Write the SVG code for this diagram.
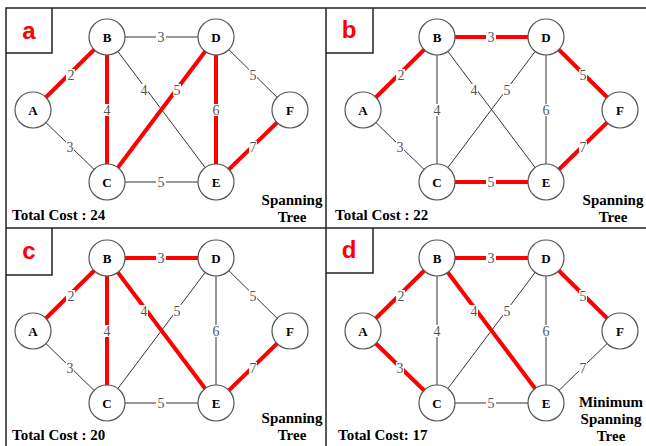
<svg xmlns="http://www.w3.org/2000/svg" width="646" height="446" viewBox="0 0 646 446">
<style>
.frame{stroke:#222;stroke-width:1.5;fill:none}
.e{stroke:#333;stroke-width:1}
.r{stroke:#ff0000;stroke-width:4}
.n circle{fill:#fff;stroke:#555;stroke-width:1.2}
.n text{font-family:"Liberation Serif","Times New Roman",serif;font-weight:bold;font-size:13px;fill:#000;text-anchor:middle}
.w{font-family:"Liberation Serif","Times New Roman",serif;font-size:14px;fill:#555;text-anchor:middle}
.bg{fill:#fff}
.tag{font-family:"Liberation Sans",Arial,sans-serif;font-weight:bold;font-size:24px;fill:#ff0000;text-anchor:middle}
.cost{font-family:"Liberation Serif","Times New Roman",serif;font-weight:bold;font-size:15px;fill:#000}
.cap{font-family:"Liberation Serif","Times New Roman",serif;font-weight:bold;font-size:15px;fill:#000;text-anchor:middle}
</style>
<rect width="646" height="446" fill="#fff"/>
<g id="frame">
<path class="frame" d="M6,446V8H646M326,8V446M6,228H646"/>
<path class="frame" d="M6,53H52V8M326,53H373V8M6,275H52V228M326,273H373V228"/>
</g>
<g id="tags">
<text class="tag" x="29" y="39">a</text>
<text class="tag" x="349" y="38">b</text>
<text class="tag" x="29" y="259">c</text>
<text class="tag" x="349" y="258">d</text>
</g>
<g id="captions">
<text class="cost" x="12" y="220">Total Cost : 24</text>
<text class="cap" x="292" y="205">Spanning</text><text class="cap" x="292" y="222">Tree</text>
<text class="cost" x="335" y="220">Total Cost : 22</text>
<text class="cap" x="613" y="205">Spanning</text><text class="cap" x="613" y="222">Tree</text>
<text class="cost" x="12" y="440">Total Cost : 20</text>
<text class="cap" x="292" y="423">Spanning</text><text class="cap" x="292" y="440">Tree</text>
<text class="cost" x="338" y="440">Total Cost: 17</text>
<text class="cap" x="611" y="407">Minimum</text><text class="cap" x="611" y="424">Spanning</text><text class="cap" x="611" y="441">Tree</text>
</g>

<!-- Panel a -->
<g id="panel-a">
<g id="connectors-a">
<line class="e" x1="107" y1="37" x2="216" y2="37"/>
<line class="e" x1="107" y1="37" x2="216" y2="182"/>
<line class="e" x1="216" y1="37" x2="290" y2="110"/>
<line class="e" x1="33" y1="110" x2="107" y2="182"/>
<line class="e" x1="107" y1="182" x2="216" y2="182"/>
<line class="r" x1="33" y1="110" x2="107" y2="37"/>
<line class="r" x1="107" y1="37" x2="107" y2="182"/>
<line class="r" x1="107" y1="182" x2="216" y2="37"/>
<line class="r" x1="216" y1="37" x2="216" y2="182"/>
<line class="r" x1="216" y1="182" x2="290" y2="110"/>
<rect class="bg" x="66" y="69" width="9" height="12"/><text class="w" x="71" y="80">2</text>
<rect class="bg" x="156" y="31" width="10" height="12"/><text class="w" x="161" y="42">3</text>
<rect class="bg" x="102" y="104" width="10" height="12"/><text class="w" x="107" y="115">4</text>
<rect class="bg" x="140" y="84" width="8" height="12"/><text class="w" x="144" y="95">4</text>
<rect class="bg" x="173" y="84" width="8" height="12"/><text class="w" x="177" y="95">5</text>
<rect class="bg" x="211" y="104" width="10" height="12"/><text class="w" x="216" y="115">6</text>
<rect class="bg" x="249" y="69" width="8" height="12"/><text class="w" x="253" y="80">5</text>
<rect class="bg" x="66" y="141" width="8" height="12"/><text class="w" x="70" y="152">3</text>
<rect class="bg" x="249" y="141" width="8" height="12"/><text class="w" x="253" y="152">7</text>
<rect class="bg" x="156" y="176" width="10" height="12"/><text class="w" x="161" y="187">5</text>
</g>
<g id="a-A" class="n"><circle cx="33" cy="110" r="18"/><text x="33" y="115">A</text></g>
<g id="a-B" class="n"><circle cx="107" cy="37" r="18"/><text x="107" y="42">B</text></g>
<g id="a-C" class="n"><circle cx="107" cy="182" r="18"/><text x="107" y="187">C</text></g>
<g id="a-D" class="n"><circle cx="216" cy="37" r="18"/><text x="216" y="42">D</text></g>
<g id="a-E" class="n"><circle cx="216" cy="182" r="18"/><text x="216" y="187">E</text></g>
<g id="a-F" class="n"><circle cx="290" cy="110" r="18"/><text x="290" y="115">F</text></g>
</g>

<!-- Panel b -->
<g id="panel-b" transform="translate(330,0)">
<g id="connectors-b">
<line class="e" x1="107" y1="37" x2="107" y2="182"/>
<line class="e" x1="107" y1="37" x2="216" y2="182"/>
<line class="e" x1="107" y1="182" x2="216" y2="37"/>
<line class="e" x1="216" y1="37" x2="216" y2="182"/>
<line class="e" x1="33" y1="110" x2="107" y2="182"/>
<line class="r" x1="33" y1="110" x2="107" y2="37"/>
<line class="r" x1="107" y1="37" x2="216" y2="37"/>
<line class="r" x1="216" y1="37" x2="290" y2="110"/>
<line class="r" x1="107" y1="182" x2="216" y2="182"/>
<line class="r" x1="216" y1="182" x2="290" y2="110"/>
<rect class="bg" x="66" y="69" width="9" height="12"/><text class="w" x="71" y="80">2</text>
<rect class="bg" x="156" y="31" width="10" height="12"/><text class="w" x="161" y="42">3</text>
<rect class="bg" x="102" y="104" width="10" height="12"/><text class="w" x="107" y="115">4</text>
<rect class="bg" x="140" y="84" width="8" height="12"/><text class="w" x="144" y="95">4</text>
<rect class="bg" x="173" y="84" width="8" height="12"/><text class="w" x="177" y="95">5</text>
<rect class="bg" x="211" y="104" width="10" height="12"/><text class="w" x="216" y="115">6</text>
<rect class="bg" x="249" y="69" width="8" height="12"/><text class="w" x="253" y="80">5</text>
<rect class="bg" x="66" y="141" width="8" height="12"/><text class="w" x="70" y="152">3</text>
<rect class="bg" x="249" y="141" width="8" height="12"/><text class="w" x="253" y="152">7</text>
<rect class="bg" x="156" y="176" width="10" height="12"/><text class="w" x="161" y="187">5</text>
</g>
<g id="b-A" class="n"><circle cx="33" cy="110" r="18"/><text x="33" y="115">A</text></g>
<g id="b-B" class="n"><circle cx="107" cy="37" r="18"/><text x="107" y="42">B</text></g>
<g id="b-C" class="n"><circle cx="107" cy="182" r="18"/><text x="107" y="187">C</text></g>
<g id="b-D" class="n"><circle cx="216" cy="37" r="18"/><text x="216" y="42">D</text></g>
<g id="b-E" class="n"><circle cx="216" cy="182" r="18"/><text x="216" y="187">E</text></g>
<g id="b-F" class="n"><circle cx="290" cy="110" r="18"/><text x="290" y="115">F</text></g>
</g>

<!-- Panel c -->
<g id="panel-c" transform="translate(0,221)">
<g id="connectors-c">
<line class="e" x1="107" y1="182" x2="216" y2="37"/>
<line class="e" x1="216" y1="37" x2="216" y2="182"/>
<line class="e" x1="216" y1="37" x2="290" y2="110"/>
<line class="e" x1="33" y1="110" x2="107" y2="182"/>
<line class="e" x1="107" y1="182" x2="216" y2="182"/>
<line class="r" x1="33" y1="110" x2="107" y2="37"/>
<line class="r" x1="107" y1="37" x2="216" y2="37"/>
<line class="r" x1="107" y1="37" x2="107" y2="182"/>
<line class="r" x1="107" y1="37" x2="216" y2="182"/>
<line class="r" x1="216" y1="182" x2="290" y2="110"/>
<rect class="bg" x="66" y="69" width="9" height="12"/><text class="w" x="71" y="80">2</text>
<rect class="bg" x="156" y="31" width="10" height="12"/><text class="w" x="161" y="42">3</text>
<rect class="bg" x="102" y="104" width="10" height="12"/><text class="w" x="107" y="115">4</text>
<rect class="bg" x="140" y="84" width="8" height="12"/><text class="w" x="144" y="95">4</text>
<rect class="bg" x="173" y="84" width="8" height="12"/><text class="w" x="177" y="95">5</text>
<rect class="bg" x="211" y="104" width="10" height="12"/><text class="w" x="216" y="115">6</text>
<rect class="bg" x="249" y="69" width="8" height="12"/><text class="w" x="253" y="80">5</text>
<rect class="bg" x="66" y="141" width="8" height="12"/><text class="w" x="70" y="152">3</text>
<rect class="bg" x="249" y="141" width="8" height="12"/><text class="w" x="253" y="152">7</text>
<rect class="bg" x="156" y="176" width="10" height="12"/><text class="w" x="161" y="187">5</text>
</g>
<g id="c-A" class="n"><circle cx="33" cy="110" r="18"/><text x="33" y="115">A</text></g>
<g id="c-B" class="n"><circle cx="107" cy="37" r="18"/><text x="107" y="42">B</text></g>
<g id="c-C" class="n"><circle cx="107" cy="182" r="18"/><text x="107" y="187">C</text></g>
<g id="c-D" class="n"><circle cx="216" cy="37" r="18"/><text x="216" y="42">D</text></g>
<g id="c-E" class="n"><circle cx="216" cy="182" r="18"/><text x="216" y="187">E</text></g>
<g id="c-F" class="n"><circle cx="290" cy="110" r="18"/><text x="290" y="115">F</text></g>
</g>

<!-- Panel d -->
<g id="panel-d" transform="translate(330,221)">
<g id="connectors-d">
<line class="e" x1="107" y1="37" x2="107" y2="182"/>
<line class="e" x1="107" y1="182" x2="216" y2="37"/>
<line class="e" x1="216" y1="37" x2="216" y2="182"/>
<line class="e" x1="216" y1="182" x2="290" y2="110"/>
<line class="e" x1="107" y1="182" x2="216" y2="182"/>
<line class="r" x1="33" y1="110" x2="107" y2="37"/>
<line class="r" x1="107" y1="37" x2="216" y2="37"/>
<line class="r" x1="216" y1="37" x2="290" y2="110"/>
<line class="r" x1="107" y1="37" x2="216" y2="182"/>
<line class="r" x1="33" y1="110" x2="107" y2="182"/>
<rect class="bg" x="66" y="69" width="9" height="12"/><text class="w" x="71" y="80">2</text>
<rect class="bg" x="156" y="31" width="10" height="12"/><text class="w" x="161" y="42">3</text>
<rect class="bg" x="102" y="104" width="10" height="12"/><text class="w" x="107" y="115">4</text>
<rect class="bg" x="140" y="84" width="8" height="12"/><text class="w" x="144" y="95">4</text>
<rect class="bg" x="173" y="84" width="8" height="12"/><text class="w" x="177" y="95">5</text>
<rect class="bg" x="211" y="104" width="10" height="12"/><text class="w" x="216" y="115">6</text>
<rect class="bg" x="249" y="69" width="8" height="12"/><text class="w" x="253" y="80">5</text>
<rect class="bg" x="66" y="141" width="8" height="12"/><text class="w" x="70" y="152">3</text>
<rect class="bg" x="249" y="141" width="8" height="12"/><text class="w" x="253" y="152">7</text>
<rect class="bg" x="156" y="176" width="10" height="12"/><text class="w" x="161" y="187">5</text>
</g>
<g id="d-A" class="n"><circle cx="33" cy="110" r="18"/><text x="33" y="115">A</text></g>
<g id="d-B" class="n"><circle cx="107" cy="37" r="18"/><text x="107" y="42">B</text></g>
<g id="d-C" class="n"><circle cx="107" cy="182" r="18"/><text x="107" y="187">C</text></g>
<g id="d-D" class="n"><circle cx="216" cy="37" r="18"/><text x="216" y="42">D</text></g>
<g id="d-E" class="n"><circle cx="216" cy="182" r="18"/><text x="216" y="187">E</text></g>
<g id="d-F" class="n"><circle cx="290" cy="110" r="18"/><text x="290" y="115">F</text></g>
</g>
</svg>
